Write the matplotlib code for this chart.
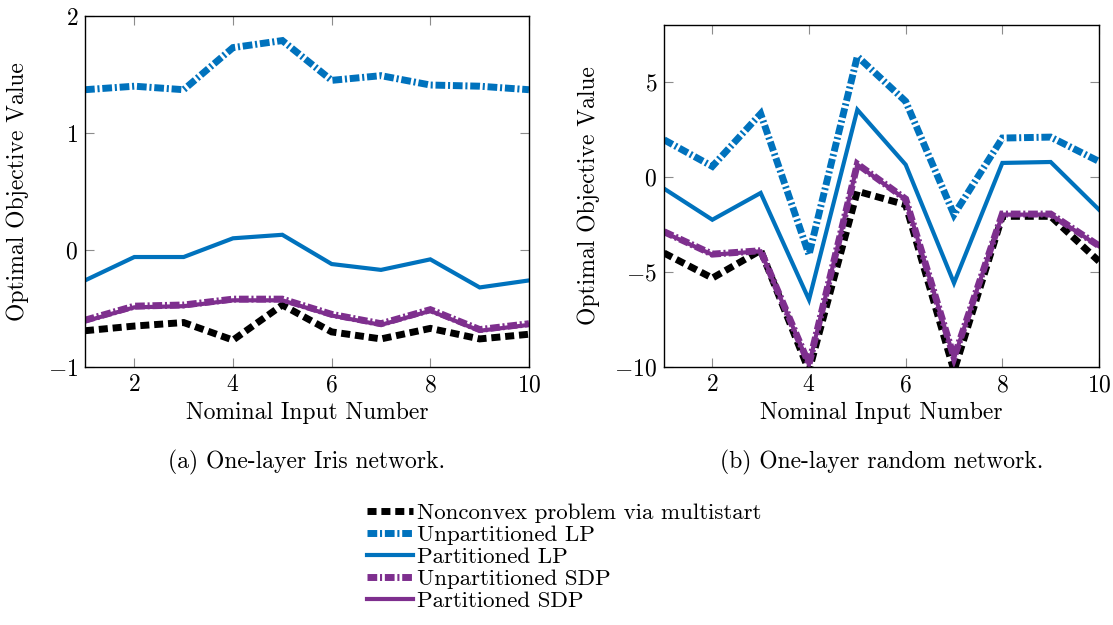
import matplotlib
matplotlib.use("Agg")
import matplotlib.pyplot as plt

# ---------------------------------------------------------------------------
# Data
# ---------------------------------------------------------------------------
inputs = [1, 2, 3, 4, 5, 6, 7, 8, 9, 10]

# (a) One-layer Iris network
iris_nonconvex = [-0.69, -0.65, -0.62, -0.77, -0.47, -0.70, -0.76, -0.67, -0.76, -0.72]
iris_unpart_lp = [1.37, 1.40, 1.37, 1.73, 1.79, 1.45, 1.49, 1.41, 1.40, 1.37]
iris_part_lp = [-0.26, -0.06, -0.06, 0.10, 0.13, -0.12, -0.17, -0.08, -0.32, -0.26]
iris_unpart_sdp = [-0.60, -0.48, -0.47, -0.42, -0.42, -0.55, -0.63, -0.51, -0.68, -0.63]
iris_part_sdp = [-0.61, -0.49, -0.48, -0.43, -0.43, -0.56, -0.64, -0.52, -0.69, -0.64]

# (b) One-layer random network
rand_nonconvex = [-4.00, -5.32, -3.86, -10.2, -0.75, -1.46, -10.2, -2.07, -2.07, -4.44]
rand_unpart_lp = [1.96, 0.56, 3.33, -4.09, 6.35, 3.98, -1.98, 2.05, 2.10, 0.82]
rand_part_lp = [-0.61, -2.25, -0.84, -6.46, 3.54, 0.65, -5.58, 0.74, 0.79, -1.72]
rand_unpart_sdp = [-2.88, -4.06, -3.88, -9.85, 0.68, -1.16, -9.50, -1.95, -1.95, -3.62]
rand_part_sdp = [-2.91, -4.09, -3.91, -9.88, 0.65, -1.19, -9.53, -1.98, -1.98, -3.65]

labels = [
    "Nonconvex problem via multistart",
    "Unpartitioned LP",
    "Partitioned LP",
    "Unpartitioned SDP",
    "Partitioned SDP",
]

BLUE = "#0072BD"
PURPLE = "#7E2F8E"
FS = 17

plt.rcParams["font.family"] = "cmr10"
plt.rcParams["mathtext.fontset"] = "cm"
plt.rcParams["axes.formatter.use_mathtext"] = True

# dash patterns are in units of line width (matplotlib scales them)
STYLES = [
    dict(color="black", lw=5.0, dashes=(1.3, 0.7)),
    dict(color=BLUE, lw=5.0, dashes=(1.4, 0.4, 0.3, 0.4)),
    dict(color=BLUE, lw=3.0, linestyle="-"),
    dict(color=PURPLE, lw=5.0, dashes=(1.4, 0.4, 0.3, 0.4)),
    dict(color=PURPLE, lw=3.0, linestyle="-"),
]


def ax_height_px(ax):
    return ax.get_position().height * 625


def draw_panel(ax, series, ylim, yticks, caption, ylabel_x):
    lines = []
    for values, label, style in zip(series, labels, STYLES):
        style = dict(style)
        dashes = style.pop("dashes", None)
        (ln,) = ax.plot(inputs, values, label=label, solid_joinstyle="miter",
                        dash_joinstyle="miter", dash_capstyle="butt", **style)
        if dashes is not None:
            ln.set_dashes(dashes)
        lines.append(ln)

    ax.set_xlim(1, 10)
    ax.set_ylim(*ylim)
    ax.set_xticks([2, 4, 6, 8, 10])
    ax.set_yticks(yticks)
    ax.tick_params(direction="in", top=True, right=True, length=6.5, width=0.8,
                   color="#8c8c8c", labelsize=FS, pad=5)
    for sp in ax.spines.values():
        sp.set_linewidth(1.0)
    ax.set_xlabel("Nominal Input Number", fontsize=FS, labelpad=4)
    ax.set_ylabel("Optimal Objective Value", fontsize=FS)
    ax.yaxis.set_label_coords(ylabel_x, 0.5)
    # caption sits at the same pixel height under both panels
    ax.text(0.5, -0.272 * 351 / ax_height_px(ax), caption, transform=ax.transAxes,
            ha="center", va="center", fontsize=FS)
    return lines


fig = plt.figure(figsize=(11.13, 6.25), dpi=100)
ax_a = fig.add_axes([85 / 1113, 1 - 367 / 625, 444 / 1113, 351 / 625])
ax_b = fig.add_axes([664 / 1113, 1 - 367 / 625, 435 / 1113, 342 / 625])

handles = draw_panel(
    ax_a,
    [iris_nonconvex, iris_unpart_lp, iris_part_lp, iris_unpart_sdp, iris_part_sdp],
    (-1, 2), [-1, 0, 1, 2], "(a) One-layer Iris network.", -0.126)
draw_panel(
    ax_b,
    [rand_nonconvex, rand_unpart_lp, rand_part_lp, rand_unpart_sdp, rand_part_sdp],
    (-10, 8), [-10, -5, 0, 5], "(b) One-layer random network.", -0.148)

fig.legend(handles=handles, labels=labels, loc="upper left",
           bbox_to_anchor=(367 / 1113, 1 - 503 / 625), frameon=False,
           fontsize=16.5, handlelength=2.0, handletextpad=0.2, labelspacing=0.08,
           borderpad=0, borderaxespad=0)

fig.savefig("out.png", dpi=100)
